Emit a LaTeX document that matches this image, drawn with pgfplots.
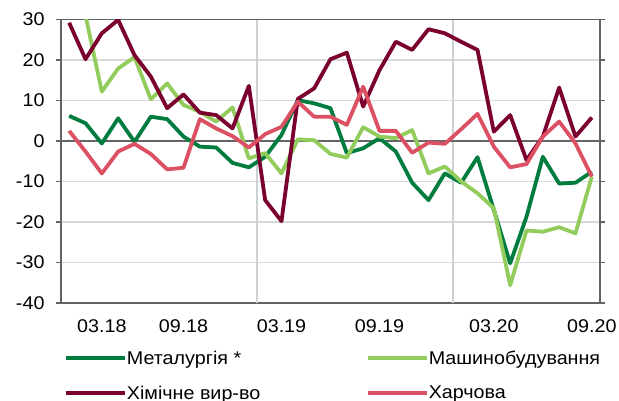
\documentclass[border=0pt]{standalone}
\usepackage{fontspec}
\setmainfont{Liberation Sans}[FakeStretch=1.07]
\usepackage{pgfplots}
\pgfplotsset{compat=1.18}
\definecolor{met}{RGB}{0,125,62}
\definecolor{mash}{RGB}{146,204,92}
\definecolor{chem}{RGB}{122,0,48}
\definecolor{food}{RGB}{220,80,100}
\definecolor{framec}{RGB}{100,100,100}
\definecolor{gridc}{RGB}{217,217,217}
\definecolor{vgridc}{RGB}{205,210,215}

\pgfplotstableread{
i met mash chem food
0 6.2 38 29.2 2.5
1 4.4 31 20.2 -2.6
2 -0.6 12.2 26.6 -8.0
3 5.6 17.9 29.9 -2.6
4 -0.2 20.7 21.2 -0.7
5 6.0 10.3 15.9 -3.2
6 5.4 14.2 8.1 -7.0
7 1.1 8.9 11.5 -6.6
8 -1.4 7.2 7.0 5.4
9 -1.6 4.8 6.4 3.1
10 -5.4 8.3 3.1 1.2
11 -6.5 -4.3 13.6 -1.6
12 -3.9 -3.0 -14.6 1.7
13 1.5 -8.0 -19.8 3.5
14 10.1 0.4 10.4 9.7
15 9.3 0.2 13.0 6.0
16 8.1 -3.2 20.2 6.0
17 -3.0 -4.1 21.8 4.0
18 -1.8 3.4 8.5 13.4
19 0.7 1.1 17.5 2.5
20 -2.6 0.7 24.5 2.5
21 -10.3 2.7 22.5 -2.9
22 -14.6 -8.0 27.6 -0.4
23 -8.0 -6.3 26.6 -0.7
24 -10.3 -10.0 24.5 2.9
25 -4.0 -12.9 22.5 6.7
26 -17.0 -16.6 2.3 -1.4
27 -30.2 -35.6 6.4 -6.5
28 -18.7 -22.1 -4.7 -5.7
29 -3.9 -22.4 1.1 1.1
30 -10.5 -21.3 13.2 4.8
31 -10.3 -22.8 1.1 -0.6
32 -7.6 -8.8 5.8 -8.8
}\datatable

\begin{document}
\begin{tikzpicture}
\useasboundingbox (0,0) rectangle (619bp,401bp);
\begin{axis}[
  at={(61bp,98bp)}, anchor=south west,
  scale only axis, width=539bp, height=283.5bp,
  xmin=-0.5, xmax=32.5, ymin=-40, ymax=30,
  xtick={2,7,13,19,26,32},
  xticklabels={03.18,09.18,03.19,09.19,03.20,09.20},
  ytick={-40,-30,-20,-10,0,10,20,30},
  yticklabels={-40,-30,-20,-10,0,10,20,30},
  ymajorgrids,
  major grid style={gridc, line width=1.3bp},
  axis line style={framec, line width=1.6bp},
  tick align=outside, major tick length=5bp,
  xtick style={draw=none},
  ytick style={framec, line width=1.3bp},
  ticklabel style={font=\fontsize{18.5}{20}\selectfont, text=black},
  yticklabel style={xshift=-8bp},
  xticklabel style={yshift=-8bp},
  extra x ticks={11.5,23.5}, extra x tick labels={},
  extra x tick style={xmajorgrids, major grid style={vgridc, line width=1.3bp}, tick style={draw=none}},
  legend columns=2,
  legend cell align=left,
  legend style={at={(0.0055,-0.168)}, anchor=north west, draw=none, fill=none,
    inner sep=0pt, row sep=20bp, column sep=0bp,
    font=\fontsize{18.5}{20}\selectfont,
    nodes={inner sep=0pt}},
  legend image code/.code={
    \path (0bp,0bp) -- (59bp,0bp);
    \draw[#1, line width=4bp, line cap=round] (2bp,0bp) -- (55bp,0bp);},
  every axis plot/.append style={line width=3.8bp, line join=round},
]
\addplot[framec, line width=1.6bp, forget plot] coordinates {(-0.5,0) (32.5,0)};
\addplot[met] table[x=i, y=met] {\datatable};
\addlegendentry{\makebox[239bp][l]{Металургія *}}
\addplot[mash] table[x=i, y=mash] {\datatable};
\addlegendentry{Машинобудування}
\addplot[chem] table[x=i, y=chem] {\datatable};
\addlegendentry{\makebox[239bp][l]{Хімічне вир-во}}
\addplot[food] table[x=i, y=food] {\datatable};
\addlegendentry{Харчова}
\end{axis}
\end{tikzpicture}
\end{document}
